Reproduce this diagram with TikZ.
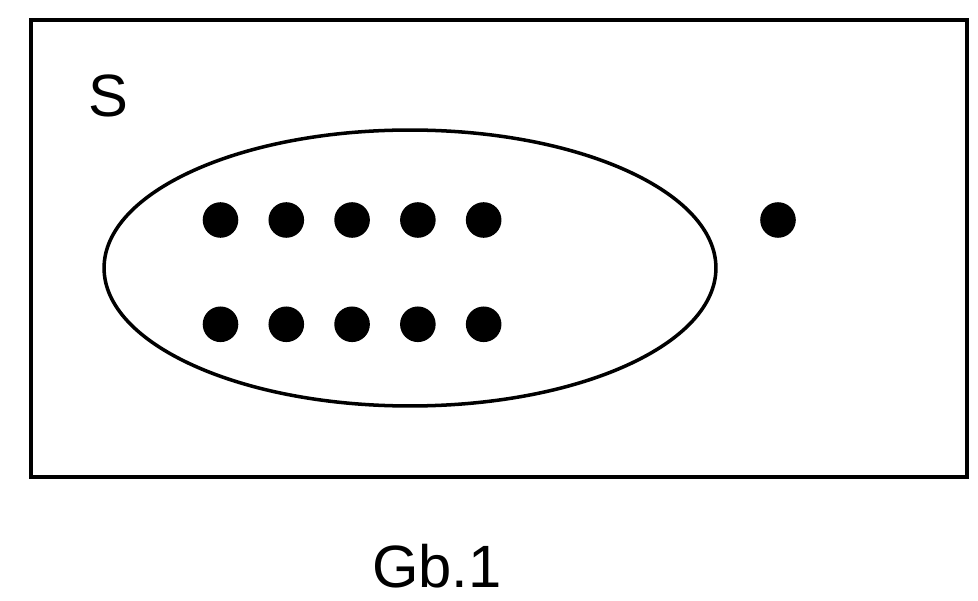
\documentclass[tikz,border=0pt]{standalone}
\usepackage{fontspec}
\setmainfont{Liberation Sans}
\usetikzlibrary{positioning, shapes.geometric}

\begin{document}
\begin{tikzpicture}[
  x=0.02cm, y=-0.02cm,
  font=\fontsize{34}{40}\selectfont,
  node distance=0.59cm,
  element/.style={circle, fill=black, inner sep=0pt, minimum size=0.712cm},
  subset/.style={draw, ellipse, line width=2pt, minimum width=12.24cm, minimum height=5.52cm, inner sep=0pt}
]
\useasboundingbox (0,0) rectangle (978,601);
\draw[line width=2pt] (31,20) rectangle (967,477);
\node (label) at (108,96) {S};
\node[subset] (set) at (410,268) {};
\node[element] (a1) at (220.5,220) {};
\node[element, right=of a1] (a2) {};
\node[element, right=of a2] (a3) {};
\node[element, right=of a3] (a4) {};
\node[element, right=of a4] (a5) {};
\node[element, below=1.36cm of a1] (b1) {};
\node[element, right=of b1] (b2) {};
\node[element, right=of b2] (b3) {};
\node[element, right=of b3] (b4) {};
\node[element, right=of b4] (b5) {};
\node[element] (out) at (778,220) {};
\node (caption) at (437,566) {Gb.1};
\end{tikzpicture}
\end{document}
